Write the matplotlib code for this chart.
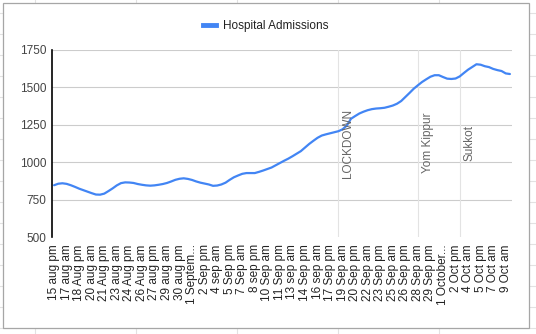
import matplotlib.pyplot as plt
from matplotlib.lines import Line2D
from matplotlib.patches import Rectangle

plt.rcParams['font.family'] = ['Liberation Sans', 'DejaVu Sans']

# half-day readings, 15 Aug pm .. 9 Oct am
admissions = [
    847, 857, 860, 856, 847, 836, 824, 814, 804, 794,
    785, 784, 791, 808, 826, 846, 861, 866, 865, 862,
    855, 850, 846, 844, 846, 850, 855, 862, 872, 883,
    890, 893, 889, 882, 872, 864, 858, 852, 843, 845,
    852, 864, 883, 900, 912, 923, 928, 928, 928, 936,
    945, 955, 965, 980, 995, 1010, 1024, 1040, 1057, 1074,
    1098, 1122, 1143, 1163, 1178, 1186, 1193, 1200, 1207, 1220,
    1245, 1290, 1308, 1325, 1337, 1347, 1354, 1358, 1360, 1363,
    1370, 1378, 1390, 1408, 1435, 1462, 1490, 1513, 1535, 1553,
    1570, 1580, 1580, 1568, 1557, 1555, 1558, 1572, 1595, 1617,
    1635, 1653, 1650, 1640, 1634, 1622, 1614, 1608, 1592, 1588,
]

tick_labels = [
    "15 aug pm", "17 aug am", "18 Aug pm", "20 aug am", "21 Aug pm",
    "23 aug am", "24 Aug pm", "26 Aug am", "27 aug pm", "29 aug am",
    "30 aug pm", "1 Septem...", "2 Sep pm", "4 sep am", "5 Sep pm",
    "7 Sep am", "8 sep pm", "10 Sep am", "11 Sep pm", "13 sep am",
    "14 Sep pm", "16 sep am", "17 Sep pm", "19 Sep am", "20 Sep pm",
    "22 Sep am", "23 Sep pm", "25 Sep am", "26 Sep pm", "28 Sep am",
    "29 Sep pm", "1 October...", "2 Oct pm", "4 Oct am", "5 Oct pm",
    "7 Oct am", "9 Oct am",
]
tick_pos = list(range(0, len(admissions), 3))

events = ["LOCKDOWN", "Yom Kippur", "Sukkot"]
event_idx = [68, 87, 97]

W, H = 536, 334
fig = plt.figure(figsize=(W / 100, H / 100), dpi=100)

# spreadsheet cells behind the chart
grid_c = '#e2e2e2'
for gx in [35, 136, 237, 338, 439]:
    fig.add_artist(Line2D([gx / W, gx / W], [0, 1], color=grid_c, lw=0.8, zorder=-3))
for gy in range(13, H, 21):
    fig.add_artist(Line2D([0, 1], [1 - gy / H, 1 - gy / H], color=grid_c, lw=0.8, zorder=-3))
fig.add_artist(Rectangle((3 / W, 1 - 328 / H), 526 / W, 325 / H, facecolor='white',
                         edgecolor='#a6a6a6', lw=0.9, zorder=-2))

ax = fig.add_axes([52 / W, 1 - 237.3 / H, 460 / W, 187.6 / H])
ax.set_facecolor('none')
x = list(range(len(admissions)))
ax.plot(x, admissions, color='#4285f4', lw=1.6, solid_capstyle='round', zorder=3)

ax.set_xlim(-0.5, len(admissions) - 0.5)
ax.set_ylim(500, 1750)
ax.set_yticks([500, 750, 1000, 1250, 1500, 1750])
ax.set_xticks(tick_pos)
ax.set_xticklabels(tick_labels, rotation=90, fontsize=8.5, color='#222222')
ax.tick_params(axis='y', length=0, pad=4, labelsize=8.5, labelcolor='#444444')
ax.tick_params(axis='x', length=0, pad=5)

for yv in [750, 1000, 1250, 1500, 1750]:
    ax.axhline(yv, color='#cccccc', lw=0.8, zorder=1)

for name, i in zip(events, event_idx):
    ax.axvline(i, color='#e3e3e3', lw=0.8, zorder=1)
    ax.text(i + 2.3, 1128, name, rotation=90, ha='center', va='center',
            fontsize=8.5, color='#666666')

for s in ['top', 'right', 'bottom']:
    ax.spines[s].set_visible(False)
ax.spines['left'].set_color('#000000')
ax.spines['left'].set_linewidth(1.2)

handle = Line2D([], [], color='#4285f4', lw=3.5)
fig.legend([handle], ['Hospital Admissions'], loc='center', bbox_to_anchor=(0.496, 0.922),
           frameon=False, fontsize=8.5, handlelength=1.1, handletextpad=0.6,
           labelcolor='#222222')

fig.savefig('out.png', dpi=100)
